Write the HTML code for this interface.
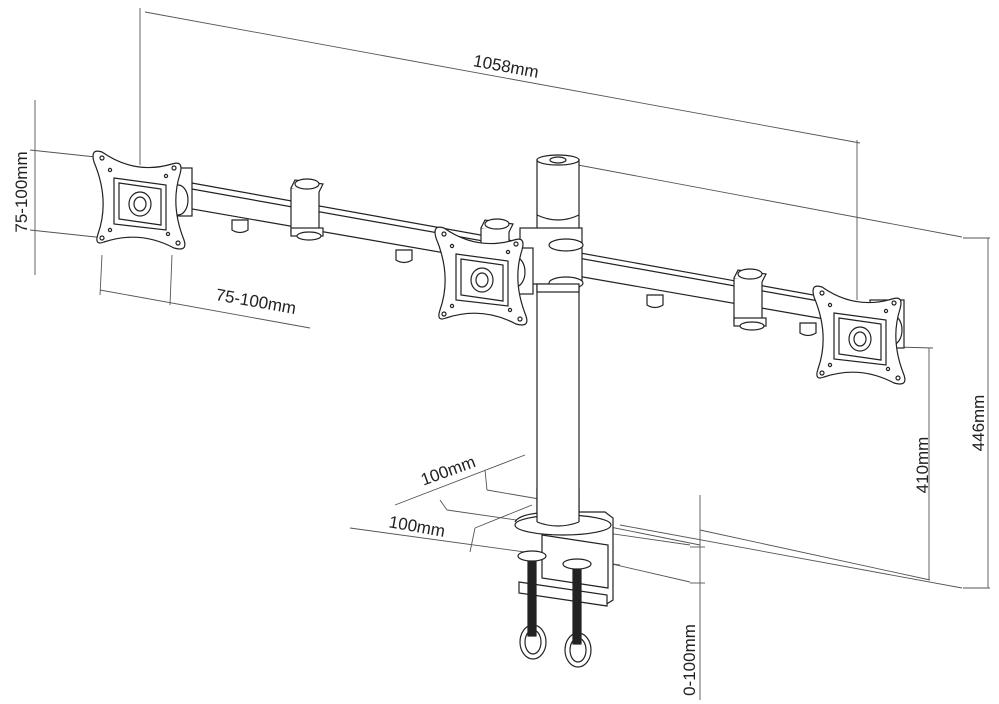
<!DOCTYPE html>
<html><head><meta charset="utf-8"><style>
html,body{margin:0;padding:0;background:#fff;}
svg{display:block;}
text{font-family:"Liberation Sans",Arial,sans-serif;font-size:17px;fill:#222;}
</style></head><body>
<svg width="999" height="704" viewBox="0 0 999 704" xmlns="http://www.w3.org/2000/svg">
<defs>
<g id="plate" stroke="#222" stroke-width="1.2" fill="#fff">
  <path d="M-38,-48 Q-5,-25 32,-36 Q44,-40 40,-26 Q30,5 44,40 Q48,52 34,48 Q0,30 -36,42 Q-46,46 -42,34 Q-30,0 -46,-38 Q-50,-52 -38,-48 Z"/>
  <path d="M-26,-22 L26,-15 L26,30 L-26,24 Z"/>
  <path d="M-21,-17 L21,-11 L21,25 L-21,19 Z"/>
  <ellipse cx="0" cy="4" rx="11" ry="12"/>
  <ellipse cx="0" cy="4" rx="6" ry="7"/>
  <circle cx="-38" cy="-42" r="2"/><circle cx="34" cy="-32" r="2"/>
  <circle cx="38" cy="43" r="2"/><circle cx="-38" cy="38" r="2"/>
  <circle cx="-30" cy="-30" r="1.6"/><circle cx="26" cy="-24" r="1.6"/>
  <circle cx="28" cy="34" r="1.6"/><circle cx="-30" cy="30" r="1.6"/>
</g>
<g id="joint" stroke="#222" stroke-width="1.2" fill="#fff">
  <rect x="-14" y="-12" width="28" height="44"/>
  <path d="M-14,-12 L-10,-20 L18,-16 L14,-8"/>
  <ellipse cx="2" cy="-16" rx="12" ry="5"/>
  <rect x="-14" y="28" width="32" height="8"/>
  <ellipse cx="4" cy="36" rx="12" ry="4"/>
</g>
<g id="clip" stroke="#222" stroke-width="1.2" fill="#fff">
  <path d="M-8,0 L8,0 L8,10 Q0,15 -8,10 Z"/>
</g>
</defs>

<g stroke="#555" stroke-width="0.9" fill="none">
  <!-- 1058 dimension -->
  <line x1="140" y1="8" x2="140" y2="165"/>
  <line x1="857" y1="140" x2="857" y2="300"/>
  <line x1="145" y1="12" x2="860" y2="143"/>
  <!-- left vertical 75-100 -->
  <line x1="35" y1="100" x2="35" y2="275"/>
  <line x1="30" y1="150" x2="105" y2="158"/>
  <line x1="30" y1="230" x2="105" y2="238"/>
  <!-- bottom 75-100 -->
  <line x1="102" y1="255" x2="100" y2="295"/>
  <line x1="172" y1="255" x2="170" y2="305"/>
  <line x1="100" y1="290" x2="310" y2="328"/>
  <!-- 446 -->
  <line x1="578" y1="165" x2="962" y2="237"/>
  <line x1="963" y1="238" x2="990" y2="238"/>
  <line x1="988" y1="238" x2="988" y2="588"/>
  <line x1="963" y1="588" x2="990" y2="588"/>
  <!-- 410 -->
  <line x1="895" y1="347" x2="933" y2="348"/>
  <line x1="929" y1="348" x2="929" y2="580"/>
  <line x1="620" y1="525" x2="962" y2="588"/>
  <line x1="700" y1="530" x2="930" y2="580"/>
  <!-- 100mm dims -->
  <line x1="395" y1="505" x2="525" y2="455"/>
  <line x1="485" y1="470" x2="487" y2="490"/>
  <line x1="487" y1="490" x2="545" y2="500"/>
  <line x1="440" y1="500" x2="447" y2="510"/>
  <line x1="447" y1="510" x2="690" y2="545"/>
  <line x1="475" y1="528" x2="532" y2="505"/>
  <line x1="475" y1="528" x2="470" y2="552"/>
  <line x1="350" y1="528" x2="620" y2="565"/>
  <line x1="600" y1="525" x2="700" y2="545"/>
  <line x1="560" y1="552" x2="690" y2="582"/>
  <!-- 0-100 -->
  <line x1="700" y1="495" x2="700" y2="700"/>
  <line x1="690" y1="547" x2="705" y2="547"/>
  <line x1="690" y1="583" x2="705" y2="583"/>
</g>

<!-- beam -->
<g stroke="#222" stroke-width="1.2" fill="#fff">
  <path d="M175,180 L830,298 L830,320 L175,206 Z"/>
  <line x1="175" y1="186" x2="830" y2="303"/>
  <!-- pole -->
  <rect x="537" y="160" width="42" height="360"/>
  <ellipse cx="558" cy="160" rx="21" ry="5"/>
  <ellipse cx="558" cy="160" rx="8" ry="3"/>
  <path d="M537,215 Q558,225 579,215"/>
  <!-- hub -->
  <rect x="520" y="228" width="62" height="56"/>
  <ellipse cx="566" cy="245" rx="17" ry="6"/>
  <ellipse cx="566" cy="283" rx="17" ry="6"/>
  <rect x="537" y="284" width="42" height="8"/>
  <!-- base -->
  <path d="M515,522 Q520,512 560,512 L605,512 L613,518 L613,600 L605,605 L600,605"/>
  <ellipse cx="563" cy="525" rx="48" ry="10"/>
  <rect x="537" y="488" width="42" height="36" stroke="none"/>
  <line x1="537" y1="488" x2="537" y2="522"/>
  <line x1="579" y1="488" x2="579" y2="522"/>
  <path d="M537,522 Q558,530 579,522"/>
  <path d="M542,535 L608,545 L608,588 L542,578 Z"/>
  <path d="M519,582 L607,595 L607,606 L519,593 Z"/>
</g>
<!-- screws -->
<g stroke="#222" stroke-width="1.2">
  <rect x="528" y="558" width="8" height="78" fill="#222"/>
  <rect x="573" y="566" width="8" height="78" fill="#222"/>
  <ellipse cx="532" cy="556" rx="14" ry="5" fill="#fff"/>
  <ellipse cx="577" cy="564" rx="14" ry="5" fill="#fff"/>
  <ellipse cx="533" cy="642" rx="13" ry="17" fill="none"/>
  <ellipse cx="533" cy="642" rx="8" ry="12" fill="none"/>
  <ellipse cx="578" cy="650" rx="13" ry="17" fill="none"/>
  <ellipse cx="578" cy="650" rx="8" ry="12" fill="none"/>
</g>

<use href="#joint" x="305" y="200"/>
<use href="#joint" x="748" y="290"/>
<use href="#joint" x="495" y="240"/>
<use href="#clip" x="240" y="220"/>
<use href="#clip" x="404" y="250"/>
<use href="#clip" x="655" y="295"/>
<use href="#clip" x="808" y="323"/>
<g stroke="#222" stroke-width="1.2" fill="#fff">
  <rect x="160" y="168" width="32" height="48"/>
  <ellipse cx="178" cy="200" rx="10" ry="15"/>
  <rect x="870" y="300" width="34" height="48"/>
  <ellipse cx="892" cy="330" rx="10" ry="15"/>
  <rect x="503" y="248" width="30" height="46"/>
  <ellipse cx="515" cy="272" rx="10" ry="15"/>
</g>
<use href="#plate" x="140" y="200"/>
<use href="#plate" x="482" y="276"/>
<use href="#plate" x="860" y="335"/>

<text x="505" y="72" text-anchor="middle" transform="rotate(10.4 505 72)">1058mm</text>
<text x="0" y="0" text-anchor="middle" transform="translate(27 192) rotate(-90)">75-100mm</text>
<text x="255" y="307" text-anchor="middle" transform="rotate(10 255 307)">75-100mm</text>
<text x="0" y="0" text-anchor="middle" transform="translate(984 423) rotate(-90)">446mm</text>
<text x="0" y="0" text-anchor="middle" transform="translate(928 465) rotate(-90)">410mm</text>
<text x="450" y="476" text-anchor="middle" transform="rotate(-20 450 476)">100mm</text>
<text x="416" y="532" text-anchor="middle" transform="rotate(10 416 532)">100mm</text>
<text x="0" y="0" text-anchor="middle" transform="translate(695 660) rotate(-90)">0-100mm</text>
</svg>
</body></html>
